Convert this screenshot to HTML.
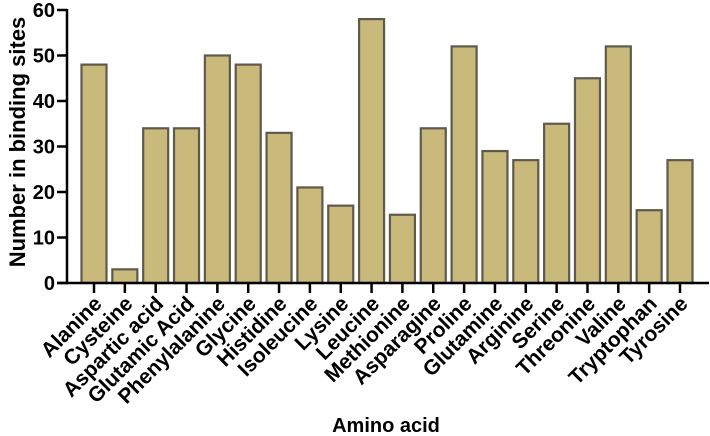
<!DOCTYPE html>
<html><head><meta charset="utf-8"><style>
body{margin:0;background:#fff;}
svg{display:block;font-family:"Liberation Sans",Arial,sans-serif;font-weight:bold;}
</style></head><body>
<svg id="chart" width="710" height="436" viewBox="0 0 710 436" xmlns="http://www.w3.org/2000/svg">
<g id="bars"></g><g id="axes"></g>
<text x="386" y="432" text-anchor="middle" font-size="20">Amino acid</text>
<text transform="translate(25,142) rotate(-90)" text-anchor="middle" font-size="22">Number in binding sites</text>
</svg>
<script>
const categories=["Alanine","Cysteine","Aspartic acid","Glutamic Acid","Phenylalanine","Glycine","Histidine","Isoleucine","Lysine","Leucine","Methionine","Asparagine","Proline","Glutamine","Arginine","Serine","Threonine","Valine","Tryptophan","Tyrosine"];
const values=[48,3,34,34,50,48,33,21,17,58,15,34,52,29,27,35,45,52,16,27];
const yTicks=[0,10,20,30,40,50,60];
const NS="http://www.w3.org/2000/svg";
const y0=283,y60=10;
function yScale(v){return y0-(y0-y60)*v/60;}
function xScale(i){return 94+i*(680-94)/(categories.length-1);}
const bars=document.getElementById('bars'),axes=document.getElementById('axes');
function mk(tag,attrs,parent){const e=document.createElementNS(NS,tag);for(const k in attrs)e.setAttribute(k,attrs[k]);parent.appendChild(e);return e;}
categories.forEach((c,i)=>{
  const r=mk('rect',{x:xScale(i)-12.5,y:yScale(values[i]),width:25,height:y0-yScale(values[i]),fill:'#c9b97b',stroke:'#5f5a4c','stroke-width':2.2},bars);
  
  
  const t=mk('line',{x1:xScale(i),x2:xScale(i),y1:y0,y2:293,stroke:'#000','stroke-width':2.5},axes);
  
  
  const l=mk('text',{transform:`translate(${xScale(i)+9},${305}) rotate(-45)`,'text-anchor':'end','font-size':21},axes);
  l.textContent=c;
  
  
});
const ya=mk('line',{x1:67,x2:67,y1:y60-1,y2:y0+1.25,stroke:'#000','stroke-width':2.5},axes);


const xa=mk('line',{x1:57,x2:709,y1:y0,y2:y0,stroke:'#000','stroke-width':2.5},axes);


yTicks.forEach(v=>{
  const t=mk('line',{x1:57,x2:67,y1:yScale(v),y2:yScale(v),stroke:'#000','stroke-width':2.5},axes);
  
  
  const l=mk('text',{x:55,y:yScale(v)+7,'text-anchor':'end','font-size':20},axes);
  l.textContent=v;
  
  
});
</script>
</body></html>
